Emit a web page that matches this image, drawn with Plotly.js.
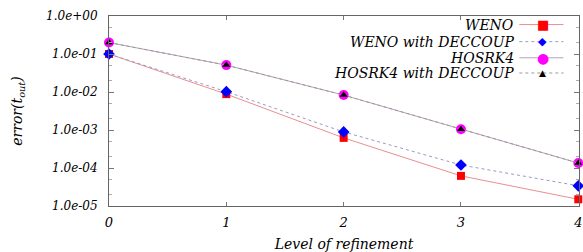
<!DOCTYPE html>
<html><head><meta charset="utf-8">
<script src="https://cdn.plot.ly/plotly-3.0.1.min.js"></script>
<style>html,body{margin:0;padding:0;background:#fff}#c{width:583px;height:252px}</style>
</head><body><div id="c"></div>
<script>
const levels = [0, 1, 2, 3, 4];
const weno = [0.1, 0.0088, 6.2e-4, 6.2e-5, 1.5e-5];
const wenoDec = [0.1, 0.0102, 8.9e-4, 1.2e-4, 3.4e-5];
const hosrk4 = [0.2, 0.051, 0.0083, 1.05e-3, 1.35e-4];
const hosrk4Dec = [0.2, 0.051, 0.0083, 1.05e-3, 1.35e-4];
const xTickText = ['0', '1', '2', '3', '4'];
const yTickVals = [1, 0.1, 0.01, 0.001, 1e-4, 1e-5];
const yTickText = ['1.0e+00', '1.0e-01', '1.0e-02', '1.0e-03', '1.0e-04', '1.0e-05'];
const names = ['WENO', 'WENO with DECCOUP', 'HOSRK4', 'HOSRK4 with DECCOUP'];

const F = 'DejaVu Serif';
const traces = [
  {x: levels, y: weno, name: names[0], mode: 'lines+markers',
   line: {color: '#e89090', width: 1}, marker: {symbol: 'square', size: 8, color: '#ff0000'}},
  {x: levels, y: wenoDec, name: names[1], mode: 'lines+markers',
   line: {color: '#9a9ac0', width: 1, dash: 'dot'}, marker: {symbol: 'diamond', size: 9, color: '#0000ff'}},
  {x: levels, y: hosrk4, name: names[2], mode: 'lines+markers',
   line: {color: '#b8a0b8', width: 1}, marker: {symbol: 'circle', size: 10, color: '#ff00ff'}},
  {x: levels, y: hosrk4Dec, name: names[3], mode: 'lines+markers',
   line: {color: '#999999', width: 1, dash: 'dot'}, marker: {symbol: 'triangle-up', size: 7, color: '#000000'}}
];
traces.forEach(t => { t.cliponaxis = false; t.showlegend = false; });

// manual legend (text, sample line, symbol) in paper coords
const legY = [0.955, 0.865, 0.78, 0.70];
const legLineCol = ['#e89090', '#9a9ac0', '#b8a0b8', '#999999'];
const legDash = ['solid', 'dot', 'solid', 'dot'];
const legSym = ['■', '◆', '●', '▲'];
const legSymCol = ['#ff0000', '#0000ff', '#ff00ff', '#000000'];
const legSymSize = [13, 11, 14, 9];
const annotations = [];
const shapes = [];
names.forEach((n, i) => {
  annotations.push({xref: 'paper', yref: 'paper', x: 0.866, y: legY[i], xanchor: 'right', yanchor: 'middle',
    text: n, showarrow: false, font: {family: F, size: 14, color: '#000', style: 'italic'}});
  shapes.push({type: 'line', xref: 'paper', yref: 'paper', x0: 0.873, x1: 0.967, y0: legY[i], y1: legY[i],
    line: {color: legLineCol[i], width: 1, dash: legDash[i]}});
  annotations.push({xref: 'paper', yref: 'paper', x: 0.923, y: legY[i], xanchor: 'center', yanchor: 'middle',
    text: legSym[i], showarrow: false, font: {family: 'DejaVu Sans', size: legSymSize[i], color: legSymCol[i]}});
});

const layout = {
  width: 583, height: 252,
  margin: {l: 109, r: 4, t: 16, b: 46},
  paper_bgcolor: '#fff', plot_bgcolor: '#fff',
  showlegend: false,
  font: {family: F, size: 12, color: '#000'},
  xaxis: {range: [0, 4.006], tickvals: levels, ticktext: xTickText, ticks: 'inside', ticklen: 4, tickcolor: '#777',
    showline: true, linecolor: '#666', linewidth: 1, mirror: 'allticks', showgrid: false, zeroline: false,
    tickfont: {family: F, size: 13, style: 'italic'}, ticklabelstandoff: 4,
    title: {text: 'Level of refinement', font: {family: F, size: 14, style: 'italic'}, standoff: 10}},
  yaxis: {type: 'log', range: [-5, 0], tickvals: yTickVals, ticktext: yTickText,
    ticks: 'inside', ticklen: 5, tickcolor: '#777',
    minor: {ticks: 'inside', ticklen: 3, tickcolor: '#aaa', showgrid: false},
    showline: true, linecolor: '#666', linewidth: 1, mirror: 'allticks', showgrid: false, zeroline: false,
    tickfont: {family: F, size: 12, style: 'italic'}, ticklabelstandoff: 8,
    title: {text: 'error(t<sub>out</sub>)', font: {family: F, size: 14, style: 'italic'}, standoff: 20}},
  annotations: annotations,
  shapes: shapes
};
Plotly.newPlot('c', traces, layout, {displayModeBar: false, staticPlot: true});
</script></body></html>
